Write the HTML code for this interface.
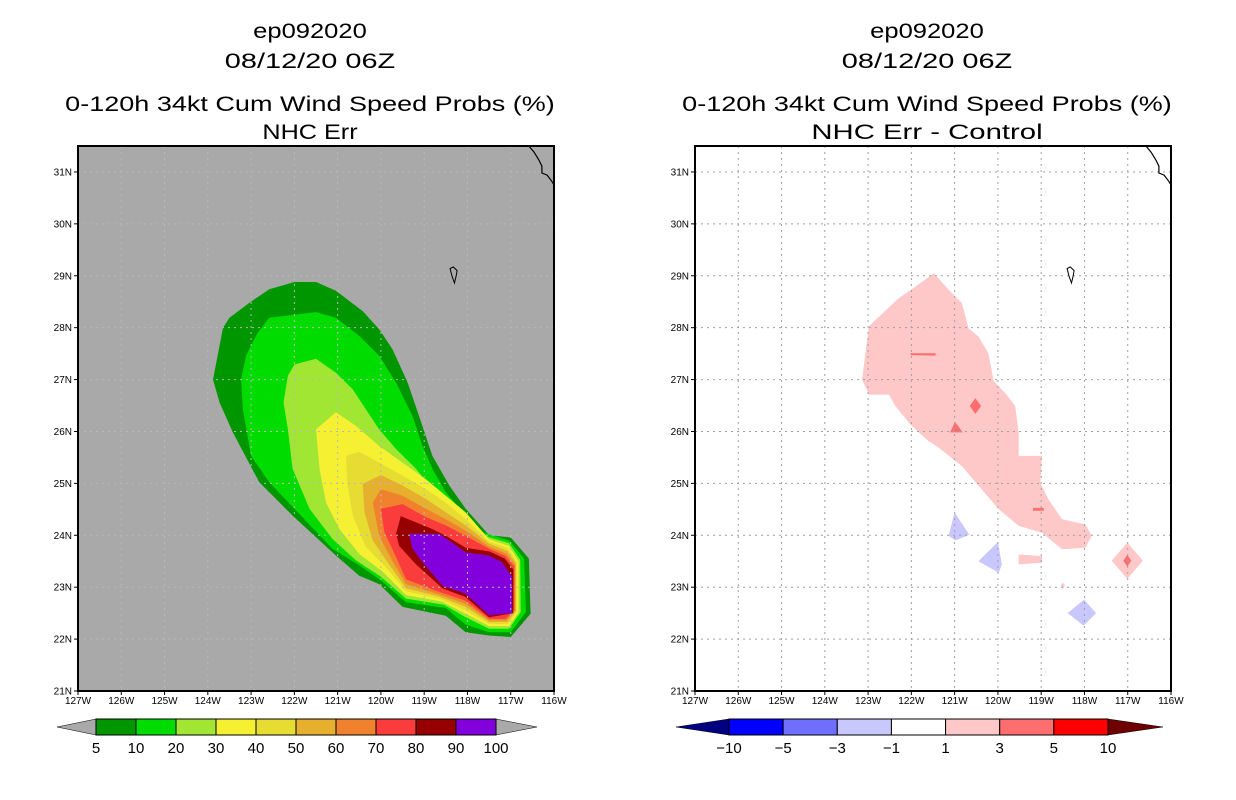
<!DOCTYPE html>
<html><head><meta charset="utf-8"><style>
html,body{margin:0;padding:0;background:#fff;}
svg{display:block;font-family:"Liberation Sans",sans-serif;}
</style></head><body>
<svg id="chart" width="1236" height="800" viewBox="0 0 1236 800">
<g id="left"></g>
<g id="right"></g>
</svg>
<script>
// Axis ticks
const lonTicks = [127,126,125,124,123,122,121,120,119,118,117,116];
const latTicks = [21,22,23,24,25,26,27,28,29,30,31];
// Left colorbar
const leftLevels = ["5","10","20","30","40","50","60","70","80","90","100"];
const leftColors = ["#009600","#00dc00","#a0e632","#f5f032","#e6dc32","#e6af2d","#f0822d","#fa3c3c","#960000","#8200dc"];
// Right colorbar
const rightLevels = ["-10","-5","-3","-1","1","3","5","10"];
const rightColors = ["#0000ff","#6e6eff","#c8c8ff","#ffffff","#ffc8c8","#ff6e6e","#ff0000"];
// Left contours (lon W, lat N)
const lev5 = [[122.0,28.88],[121.5,28.88],[121.04,28.71],[120.42,28.32],[120.04,27.97],[119.73,27.58],[119.38,26.94],[119.12,26.3],[118.81,25.53],[118.42,24.96],[118.04,24.51],[117.5,24.0],[117.0,23.96],[116.58,23.55],[116.54,22.49],[117.0,22.04],[117.5,22.07],[118.04,22.13],[118.5,22.45],[119.5,22.62],[120.04,23.06],[120.5,23.22],[121.04,23.61],[122.04,24.38],[122.81,25.02],[123.42,25.98],[123.73,26.56],[123.88,27.0],[123.65,28.0],[123.5,28.19],[123.04,28.48],[122.58,28.74]];
const lev10 = [[122.58,28.19],[121.5,28.3],[121.04,28.19],[120.5,27.84],[120.04,27.46],[119.65,26.94],[119.27,26.3],[119.04,25.72],[118.81,25.28],[118.5,24.83],[118.04,24.38],[117.65,24.06],[117.04,23.9],[116.69,23.55],[116.65,22.52],[117.0,22.13],[117.5,22.13],[118.04,22.28],[118.5,22.6],[119.42,22.71],[120.0,23.13],[120.5,23.42],[121.12,23.74],[122.0,24.51],[122.58,25.02],[123.0,25.53],[123.19,26.43],[123.23,27.0],[123.12,27.46],[122.85,27.9]];
const lev20 = [[122.0,27.29],[121.5,27.4],[121.04,27.13],[120.65,26.81],[120.35,26.43],[120.04,26.04],[119.65,25.66],[119.19,25.28],[118.81,24.89],[118.35,24.51],[118.04,24.25],[117.5,23.96],[117.04,23.85],[116.78,23.53],[116.77,22.52],[117.04,22.2],[117.5,22.2],[118.04,22.42],[118.54,22.66],[119.42,22.78],[120.0,23.2],[120.58,23.52],[121.12,23.93],[121.65,24.51],[122.04,25.28],[122.15,26.04],[122.25,26.56],[122.15,27.07]];
const lev30 = [[121.5,26.04],[121.04,26.37],[120.58,26.11],[120.04,25.72],[119.5,25.4],[118.96,25.08],[118.5,24.76],[118.04,24.44],[117.5,23.92],[117.04,23.8],[116.82,23.5],[116.82,22.52],[117.04,22.25],[117.5,22.25],[118.04,22.49],[118.58,22.72],[119.42,22.85],[119.96,23.3],[120.5,23.64],[120.96,24.12],[121.27,24.63],[121.42,25.28]];
const lev40 = [[120.81,25.53],[120.5,25.61],[120.04,25.4],[119.5,25.15],[118.96,24.89],[118.5,24.63],[118.04,24.31],[117.5,23.88],[117.06,23.75],[116.86,23.48],[116.86,22.53],[117.06,22.29],[117.5,22.29],[118.04,22.55],[118.62,22.77],[119.42,22.92],[119.88,23.38],[120.35,23.78],[120.65,24.38],[120.77,24.96]];
const lev50 = [[120.42,24.99],[120.0,25.16],[119.5,24.96],[118.96,24.7],[118.5,24.44],[118.04,24.19],[117.5,23.84],[117.08,23.7],[116.88,23.46],[116.88,22.54],[117.08,22.33],[117.5,22.33],[118.04,22.62],[118.65,22.82],[119.42,22.98],[119.81,23.44],[120.19,23.9],[120.38,24.44]];
const lev60 = [[120.19,24.63],[120.0,24.89],[119.5,24.76],[118.96,24.51],[118.5,24.31],[118.04,24.09],[117.5,23.78],[117.1,23.65],[116.9,23.43],[116.9,22.55],[117.1,22.36],[117.5,22.36],[118.04,22.68],[118.69,22.87],[119.42,23.06],[119.73,23.5],[120.04,23.99]];
const lev70 = [[120.0,24.51],[119.5,24.6],[118.96,24.35],[118.5,24.19],[118.04,23.99],[117.5,23.74],[117.12,23.6],[116.92,23.4],[116.92,22.56],[117.12,22.39],[117.5,22.39],[118.04,22.74],[118.73,22.93],[119.42,23.15],[119.65,23.58],[119.92,24.06]];
const lev80 = [[119.65,24.03],[119.54,24.37],[118.81,24.12],[118.5,23.99],[118.04,23.76],[117.5,23.69],[117.14,23.55],[116.94,23.34],[116.94,22.5],[117.5,22.42],[118.04,22.81],[118.58,22.98],[119.19,23.44],[119.58,23.8]];
const lev90 = [[119.35,24.03],[118.65,24.03],[118.04,23.67],[117.5,23.61],[117.2,23.48],[116.97,23.2],[116.97,22.5],[117.5,22.46],[118.04,22.87],[118.58,23.03],[119.04,23.48],[119.27,23.74]];
const leftContours = [lev5,lev10,lev20,lev30,lev40,lev50,lev60,lev70,lev80,lev90];
// Right difference features
const diffMain = [[121.48,29.05],[121.14,28.73],[120.83,28.47],[120.68,27.99],[120.45,27.83],[120.22,27.51],[120.1,26.97],[119.83,26.74],[119.6,26.49],[119.52,25.97],[119.52,25.53],[118.98,25.53],[119.02,25.01],[118.83,24.69],[118.52,24.31],[117.98,24.21],[117.83,23.99],[117.98,23.76],[118.52,23.73],[118.98,24.05],[119.52,24.18],[119.98,24.5],[120.37,24.88],[120.83,25.33],[121.37,25.69],[121.6,25.81],[122.02,26.13],[122.37,26.49],[122.52,26.71],[122.98,26.71],[123.14,27.0],[122.98,28.03],[122.29,28.57],[121.91,28.79]];
const diffPink2 = [[119.52,23.63],[118.98,23.6],[118.98,23.47],[119.52,23.44]];
const diffPink3 = [[117.01,23.86],[116.65,23.51],[117.01,23.16],[117.37,23.51]];
const diffPink4 = [[118.5,23.09],[118.45,23.03],[118.5,22.97],[118.55,23.03]];
const diffRed1 = [[120.52,26.63],[120.4,26.49],[120.52,26.35],[120.64,26.49]];
const diffRed2 = [[120.99,26.17],[121.09,25.99],[120.83,25.99]];
const diffRed3 = [[117.01,23.61],[116.93,23.51],[117.01,23.41],[117.09,23.51]];
const diffRed4 = [[122.01,27.5],[121.45,27.5],[121.45,27.47],[122.01,27.48]];
const diffRed5 = [[119.18,24.52],[118.95,24.52],[118.95,24.48],[119.18,24.48]];
const diffBlue1 = [[121.0,24.44],[121.14,23.99],[120.98,23.9],[120.66,24.01]];
const diffBlue2 = [[120.0,23.87],[119.91,23.44],[119.98,23.28],[120.45,23.5]];
const diffBlue3 = [[118.01,22.76],[117.73,22.5],[118.02,22.26],[118.39,22.5]];
const pinkShapes=[diffMain,diffPink2,diffPink3,diffPink4];
const redShapes=[diffRed1,diffRed2,diffRed3,diffRed4,diffRed5];
const blueShapes=[diffBlue1,diffBlue2,diffBlue3];
// Coastline (lon W, lat N)
const coast = [[116.58,31.5],[116.46,31.38],[116.35,31.23],[116.28,31.11],[116.28,30.98],[116.16,30.94],[116.05,30.82],[116.0,30.75],[116.0,30.44]];
const island = [[118.33,29.17],[118.4,29.14],[118.36,29.0],[118.3,28.86],[118.26,29.0],[118.24,29.1]];

const NS="http://www.w3.org/2000/svg";
function mk(parent,tag,attrs){const e=document.createElementNS(NS,tag);for(const k in attrs)e.setAttribute(k,attrs[k]);parent.appendChild(e);return e;}
function panel(gid,x0){
  const g=document.getElementById(gid);
  const W=476,T=146,B=691;
  const xs=lon=>x0+(127-lon)*W/11;
  const ys=lat=>B-(lat-21)*(B-T)/10.5;
  const pts=a=>a.map(p=>xs(p[0]).toFixed(1)+","+ys(p[1]).toFixed(1)).join(" ");
  return {g,xs,ys,pts,W,T,B};
}
function frame(P,x0,bg){
  const r=mk(P.g,'rect',{x:x0,y:P.T,width:P.W,height:P.B-P.T,fill:bg});
  
  
  return r;
}
function decorate(P,x0,titles,gridColor){
  const g=P.g;
  const gg=mk(g,'g',{stroke:gridColor,'stroke-width':1,'stroke-dasharray':'2,4'});
  
  
  lonTicks.slice(1,-1).forEach(l=>{const ln=mk(gg,'line',{x1:P.xs(l),x2:P.xs(l),y1:P.T,y2:P.B});});
  latTicks.slice(1).forEach(l=>{const ln=mk(gg,'line',{x1:x0,x2:x0+P.W,y1:P.ys(l),y2:P.ys(l)});});
  const c=mk(g,'polyline',{points:P.pts(coast),fill:'none',stroke:'#000','stroke-width':1.2});
  
  
  const is=mk(g,'polygon',{points:P.pts(island),fill:'none',stroke:'#000','stroke-width':1});
  
  
  const fr=mk(g,'rect',{x:x0,y:P.T,width:P.W,height:P.B-P.T,fill:'none',stroke:'#000','stroke-width':2});
  
  
  latTicks.forEach(l=>{
    const y=P.ys(l);
    const tk=mk(g,'line',{x1:x0-4,x2:x0,y1:y,y2:y,stroke:'#000'});
    
    
    const t=mk(g,'text',{x:x0-6,y:y+3.5,'text-anchor':'end','font-size':10});
    t.textContent=l+"N";
    
    
  });
  lonTicks.forEach(l=>{
    const x=P.xs(l);
    const tk=mk(g,'line',{x1:x,x2:x,y1:P.B,y2:P.B+4,stroke:'#000'});
    
    
    const t=mk(g,'text',{x:x,y:P.B+13,'text-anchor':'middle','font-size':10});
    t.textContent=l+"W";
    
    
  });
  const cx=x0+P.W/2-6;
  const tys=[38,68,111,139];
  const tws=[titles[0].length*14.2,titles[1].length*14.2,titles[2].length*13.6,titles[3].length*13.6];
  titles.forEach((s,i)=>{
    const t=mk(g,'text',{x:cx,y:tys[i],'text-anchor':'middle','font-size':21,textLength:tws[i],lengthAdjust:'spacingAndGlyphs'});
    t.textContent=s;
    
    
  });
}
function colorbar(g,tipL,x1,x2,tipR,colors,labels,leftTip,rightTip){
  const y0=719,y1=735,ym=(y0+y1)/2;
  const n=colors.length,w=(x2-x1)/n;
  const lt=mk(g,'polygon',{points:`${tipL},${ym} ${x1},${y0} ${x1},${y1}`,fill:leftTip,stroke:'#000','stroke-width':0.5});
  
  
  const rt=mk(g,'polygon',{points:`${tipR},${ym} ${x2},${y0} ${x2},${y1}`,fill:rightTip,stroke:'#000','stroke-width':0.5});
  
  
  colors.forEach((c,i)=>{
    const r=mk(g,'rect',{x:x1+i*w,y:y0,width:w,height:y1-y0,fill:c,stroke:'#000','stroke-width':1});
    
    
  });
  labels.forEach((s,i)=>{
    const t=mk(g,'text',{x:x1+i*w,y:753,'text-anchor':'middle','font-size':15});
    t.textContent=s.replace('-','\u2212');
    
    
  });
}
// Left panel
const PL=panel('left',78);
frame(PL,78,'#a9a9a9');
leftContours.forEach((poly,i)=>{
  const p=mk(PL.g,'polygon',{points:PL.pts(poly),fill:leftColors[i]});
  
  
});
decorate(PL,78,["ep092020","08/12/20 06Z","0-120h 34kt Cum Wind Speed Probs (%)","NHC Err"],'#b8b8b8');
colorbar(PL.g,57,96,496,537,leftColors,leftLevels,'#a9a9a9','#a9a9a9');
// Right panel
const PR=panel('right',695);
frame(PR,695,'#ffffff');
pinkShapes.forEach(s=>{const p=mk(PR.g,'polygon',{points:PR.pts(s),fill:'#ffc8c8'});});
redShapes.forEach(s=>{const p=mk(PR.g,'polygon',{points:PR.pts(s),fill:'#ff6e6e',stroke:'#ff6e6e','stroke-width':0.8});});
blueShapes.forEach(s=>{const p=mk(PR.g,'polygon',{points:PR.pts(s),fill:'#c8c8ff'});});
decorate(PR,695,["ep092020","08/12/20 06Z","0-120h 34kt Cum Wind Speed Probs (%)","NHC Err - Control"],'#a0a0a0');
colorbar(PR.g,676,729,1108,1163,rightColors,rightLevels,'#000080','#6e0000');
</script>
</body></html>
